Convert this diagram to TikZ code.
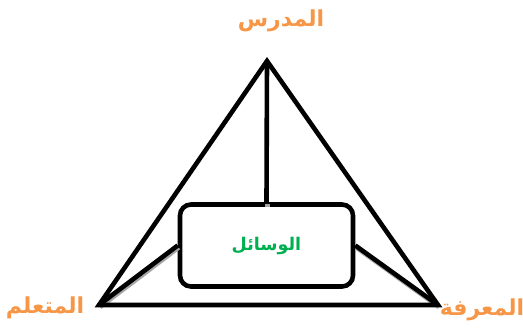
\documentclass[tikz,border=0pt]{standalone}
\usepackage{fontspec}
\TeXXeTstate=1
\newfontfamily\arabicfont[Script=Arabic]{DejaVu Sans}
\definecolor{labelorange}{HTML}{F79646}
\definecolor{toolgreen}{HTML}{00B050}
\begin{document}
\begin{tikzpicture}[x=1pt,y=-1pt,
  every node/.style={font=\arabicfont\bfseries\fontsize{22}{26}\selectfont,inner sep=0pt},
  edge/.style={line width=4.6pt,line join=miter},
  shade/.style={line width=4.6pt,draw=black!35}]
  \useasboundingbox (0,0) rectangle (523,333);
  % corners of the triangle
  \coordinate (teacher) at (267,61);
  \coordinate (learner) at (99,305);
  \coordinate (knowledge) at (438,305);
  % middle box
  \node[draw,fill=white,line width=4.6pt,rounded corners=11pt,minimum width=173pt,minimum height=82pt,
    text=toolgreen,font=\arabicfont\bfseries\fontsize{17.5}{20}\selectfont] (tools) at (266.5,245.5) {\beginR الوسائل\endR};
  % soft shadows
  \draw[shade] ([shift={(1,2)}]learner) -- ([shift={(1,2)}]tools.west);
  \draw[shade] ([shift={(1,2)}]knowledge) -- ([shift={(1,2)}]tools.east);
  \draw[shade] ([shift={(1,2)}]tools.north) -- ++(0,3);
  \draw[edge] (teacher) -- (learner) -- (knowledge) -- cycle;
  \draw[edge] (teacher) -- (tools.north);
  \draw[edge] (learner) -- (tools.west);
  \draw[edge] (knowledge) -- (tools.east);
  % labels
  \node[text=labelorange] (teacherlabel) at (281,21) {\beginR المدرس\endR};
  \node[text=labelorange] (learnerlabel) at (45,308) {\beginR المتعلم\endR};
  \node[text=labelorange] (knowledgelabel) at (482,310) {\beginR المعرفة\endR};
\end{tikzpicture}
\end{document}
